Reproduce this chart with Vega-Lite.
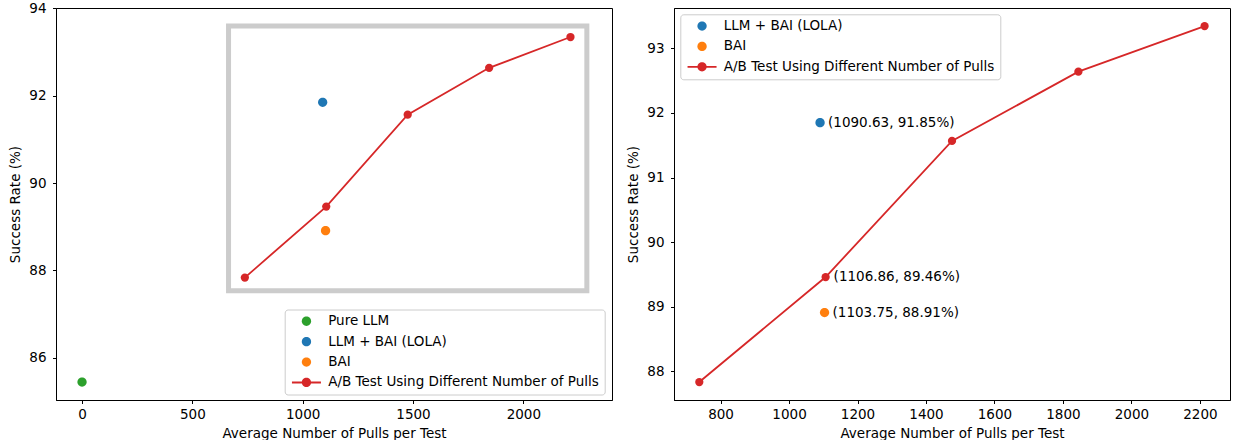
{
  "$schema": "https://vega.github.io/schema/vega-lite/v6.json",
  "padding": {"left": 8, "top": 0, "right": 0, "bottom": 0},
  "spacing": 13,
  "background": "white",
  "config": {
    "font": "DejaVu Sans",
    "view": {"stroke": "black", "strokeWidth": 1},
    "axis": {
      "domainColor": "black", "domainWidth": 1, "tickColor": "black", "tickWidth": 1,
      "labelColor": "black", "labelFont": "DejaVu Sans", "labelFontSize": 13.5,
      "titleFont": "DejaVu Sans", "titleFontSize": 13.5, "titleFontWeight": "normal", "titleColor": "black",
      "grid": false, "labelFlush": false, "labelOverlap": false, "format": "d"
    },
    "axisX": {"tickSize": 3.5, "labelPadding": 4, "titlePadding": 5},
    "axisY": {"tickSize": 3.5, "labelPadding": 6.5, "titlePadding": 6},
    "legend": {
      "labelFont": "DejaVu Sans", "labelFontSize": 13.5, "labelColor": "black", "labelLimit": 1000,
      "fillColor": "white", "strokeColor": "#cccccc", "cornerRadius": 3, "padding": 5,
      "symbolOffset": 10, "labelOffset": 15, "rowPadding": 5.4, "symbolStrokeWidth": 0, "symbolSize": 100,
      "symbolOpacity": 1
    }
  },
  "datasets": {
    "ab": [
      {"x": 737.9, "y": 87.835},
      {"x": 1106.86, "y": 89.46},
      {"x": 1476.0, "y": 91.567},
      {"x": 1845.2, "y": 92.64},
      {"x": 2213.8, "y": 93.345}
    ],
    "scatter": [
      {"series": "Pure LLM", "x": 0, "y": 85.44},
      {"series": "LLM + BAI (LOLA)", "x": 1090.63, "y": 91.85},
      {"series": "BAI", "x": 1103.75, "y": 88.91}
    ],
    "box": [
      {"x": 664, "x2": 2288, "y": 87.53, "y2": 93.6}
    ],
    "ann": [
      {"x": 1090.63, "y": 91.85, "label": "(1090.63, 91.85%)"},
      {"x": 1106.86, "y": 89.46, "label": "(1106.86, 89.46%)"},
      {"x": 1103.75, "y": 88.91, "label": "(1103.75, 88.91%)"}
    ]
  },
  "resolve": {
    "scale": {"color": "independent", "shape": "independent", "x": "independent", "y": "independent"},
    "legend": {"color": "independent", "shape": "independent"}
  },
  "hconcat": [
    {
      "width": 556,
      "height": 392,
      "layer": [
        {
          "data": {"name": "box"},
          "mark": {"type": "rect", "filled": false, "stroke": "#cccccc", "strokeWidth": 5},
          "encoding": {
            "x": {"field": "x", "type": "quantitative"},
            "x2": {"field": "x2"},
            "y": {"field": "y", "type": "quantitative"},
            "y2": {"field": "y2"}
          }
        },
        {
          "data": {"name": "ab"},
          "mark": {"type": "line", "color": "#d62728", "strokeWidth": 1.8},
          "encoding": {
            "x": {"field": "x", "type": "quantitative"},
            "y": {"field": "y", "type": "quantitative"}
          }
        },
        {
          "data": {"name": "ab"},
          "mark": {"type": "point", "filled": true, "shape": "circle", "size": 68, "color": "#d62728", "opacity": 1},
          "encoding": {
            "x": {"field": "x", "type": "quantitative"},
            "y": {"field": "y", "type": "quantitative"}
          }
        },
        {
          "data": {"name": "scatter"},
          "mark": {"type": "point", "filled": true, "size": 100, "opacity": 1},
          "encoding": {
            "x": {"field": "x", "type": "quantitative",
              "scale": {"domain": [-118, 2402], "nice": false, "zero": false},
              "axis": {"title": "Average Number of Pulls per Test", "values": [0, 500, 1000, 1500, 2000]}},
            "y": {"field": "y", "type": "quantitative",
              "scale": {"domain": [85.03, 94.01], "nice": false, "zero": false},
              "axis": {"title": "Success Rate (%)", "values": [86, 88, 90, 92, 94]}},
            "color": {"field": "series", "type": "nominal",
              "scale": {"domain": ["Pure LLM", "LLM + BAI (LOLA)", "BAI", "A/B Test Using Different Number of Pulls"],
                        "range": ["#2ca02c", "#1f77b4", "#ff7f0e", "#d62728"]},
              "legend": {"title": null, "orient": "none", "legendX": 228.7, "legendY": 301.5}},
            "shape": {"field": "series", "type": "nominal",
              "scale": {"domain": ["Pure LLM", "LLM + BAI (LOLA)", "BAI", "A/B Test Using Different Number of Pulls"],
                        "range": [
                          "M0.93,0 A0.93,0.93 0 1 1 -0.93,0 A0.93,0.93 0 1 1 0.93,0 Z",
                          "M0.93,0 A0.93,0.93 0 1 1 -0.93,0 A0.93,0.93 0 1 1 0.93,0 Z",
                          "M0.93,0 A0.93,0.93 0 1 1 -0.93,0 A0.93,0.93 0 1 1 0.93,0 Z",
                          "M-2.9,-0.19 L2.9,-0.19 L2.9,0.19 L-2.9,0.19 Z M0.93,0 A0.93,0.93 0 1 1 -0.93,0 A0.93,0.93 0 1 1 0.93,0 Z"
                        ]},
              "legend": {"title": null, "orient": "none", "legendX": 228.7, "legendY": 301.5}}
          }
        }
      ]
    },
    {
      "width": 556,
      "height": 392,
      "layer": [
        {
          "data": {"name": "ab"},
          "mark": {"type": "line", "color": "#d62728", "strokeWidth": 1.8},
          "encoding": {
            "x": {"field": "x", "type": "quantitative"},
            "y": {"field": "y", "type": "quantitative"}
          }
        },
        {
          "data": {"name": "ab"},
          "mark": {"type": "point", "filled": true, "shape": "circle", "size": 68, "color": "#d62728", "opacity": 1},
          "encoding": {
            "x": {"field": "x", "type": "quantitative"},
            "y": {"field": "y", "type": "quantitative"}
          }
        },
        {
          "data": {"name": "ann"},
          "mark": {"type": "text", "align": "left", "baseline": "middle", "dx": 8, "fontSize": 13.5, "font": "DejaVu Sans", "color": "black"},
          "encoding": {
            "x": {"field": "x", "type": "quantitative"},
            "y": {"field": "y", "type": "quantitative"},
            "text": {"field": "label", "type": "nominal"}
          }
        },
        {
          "data": {"name": "scatter"},
          "transform": [{"filter": "datum.series !== 'Pure LLM'"}],
          "mark": {"type": "point", "filled": true, "size": 100, "opacity": 1},
          "encoding": {
            "x": {"field": "x", "type": "quantitative",
              "scale": {"domain": [664, 2288], "nice": false, "zero": false},
              "axis": {"title": "Average Number of Pulls per Test", "values": [800, 1000, 1200, 1400, 1600, 1800, 2000, 2200]}},
            "y": {"field": "y", "type": "quantitative",
              "scale": {"domain": [87.557, 93.625], "nice": false, "zero": false},
              "axis": {"title": "Success Rate (%)", "values": [88, 89, 90, 91, 92, 93]}},
            "color": {"field": "series", "type": "nominal",
              "scale": {"domain": ["LLM + BAI (LOLA)", "BAI", "A/B Test Using Different Number of Pulls"],
                        "range": ["#1f77b4", "#ff7f0e", "#d62728"]},
              "legend": {"title": null, "orient": "none", "legendX": 6.3, "legendY": 6.3}},
            "shape": {"field": "series", "type": "nominal",
              "scale": {"domain": ["LLM + BAI (LOLA)", "BAI", "A/B Test Using Different Number of Pulls"],
                        "range": [
                          "M0.93,0 A0.93,0.93 0 1 1 -0.93,0 A0.93,0.93 0 1 1 0.93,0 Z",
                          "M0.93,0 A0.93,0.93 0 1 1 -0.93,0 A0.93,0.93 0 1 1 0.93,0 Z",
                          "M-2.9,-0.19 L2.9,-0.19 L2.9,0.19 L-2.9,0.19 Z M0.93,0 A0.93,0.93 0 1 1 -0.93,0 A0.93,0.93 0 1 1 0.93,0 Z"
                        ]},
              "legend": {"title": null, "orient": "none", "legendX": 6.3, "legendY": 6.3}}
          }
        }
      ]
    }
  ]
}
